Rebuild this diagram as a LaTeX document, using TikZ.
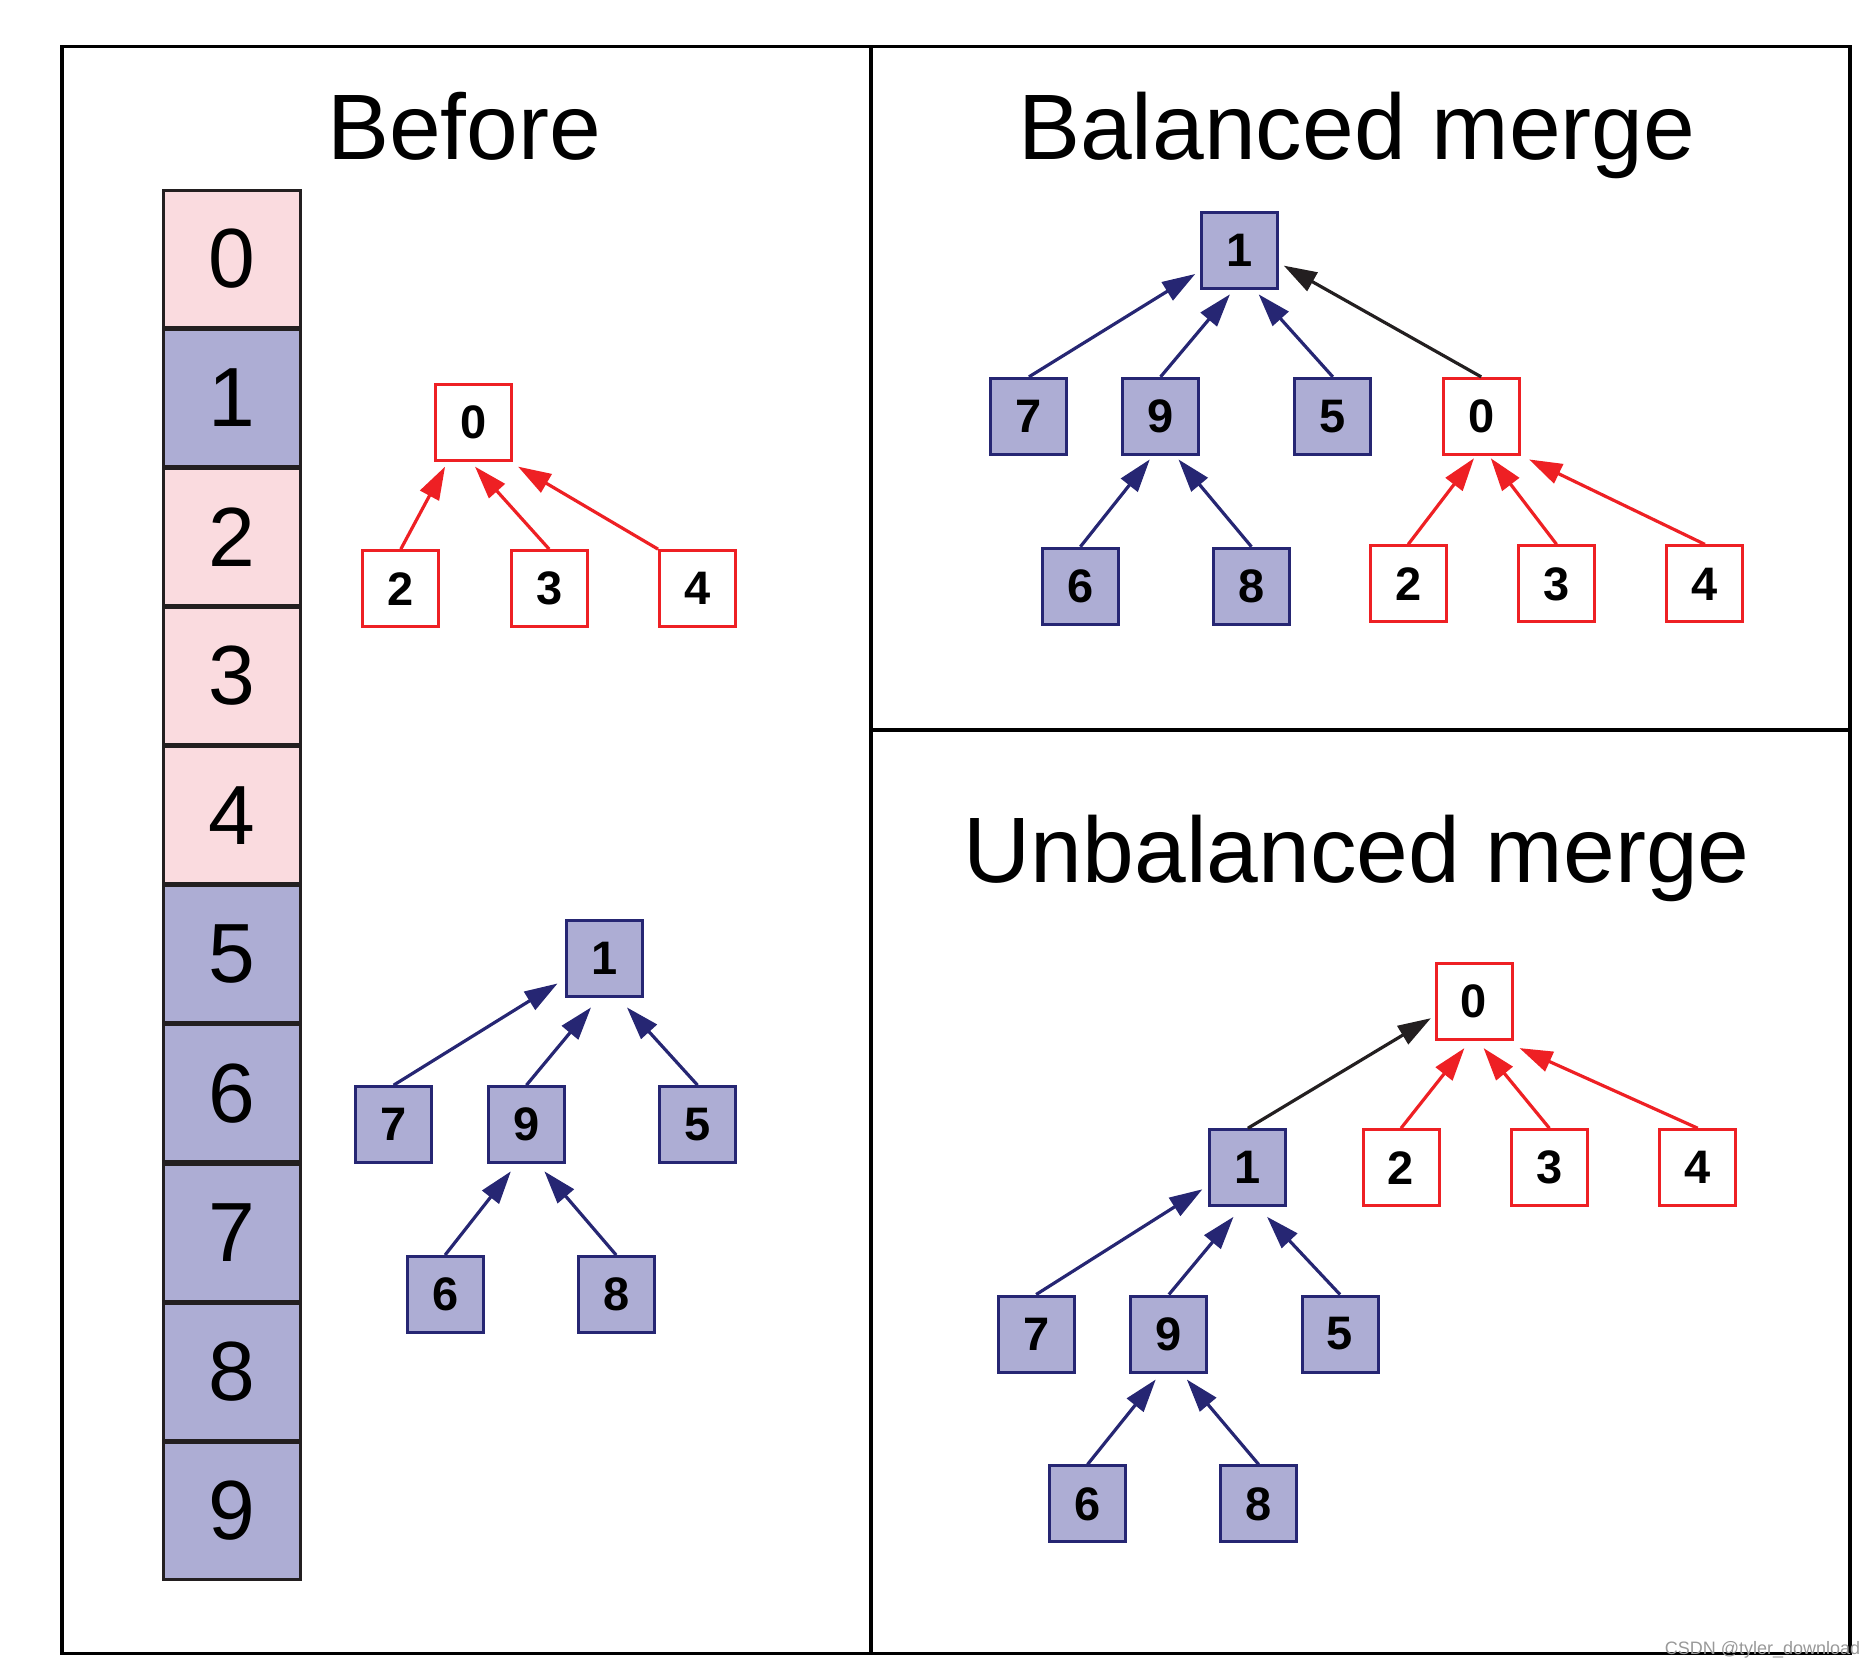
\documentclass[tikz,border=0pt]{standalone}
\usepackage{fontspec}
\setmainfont{Liberation Sans}
\usetikzlibrary{arrows.meta,calc}
\definecolor{pinkfill}{HTML}{FADBDF}
\definecolor{lav}{HTML}{ADADD4}
\definecolor{navy}{HTML}{262673}
\definecolor{redl}{HTML}{EE2024}
\definecolor{blk}{HTML}{231F20}
\begin{document}
\begin{tikzpicture}[x=1.1964pt,y=-1.1964pt,
  box/.style={line width=3pt,minimum size=76pt,inner sep=0pt,font=\fontsize{47}{47}\selectfont\bfseries},
  bn/.style={box,draw=navy,fill=lav},
  rn/.style={box,draw=redl,fill=white},
  cell/.style={draw=blk,line width=3pt,minimum width=137pt,minimum height=137pt,inner sep=0pt,font=\fontsize{84}{84}\selectfont},
  pcell/.style={cell,fill=pinkfill},
  lcell/.style={cell,fill=lav},
  ttl/.style={anchor=base,font=\fontsize{93}{93}\selectfont},
  tip/.style={-{Triangle[length=33pt,width=21pt]},line width=3.2pt},
  ba/.style={tip,draw=navy},
  ra/.style={tip,draw=redl},
  ka/.style={tip,draw=blk},
  frame/.style={draw=black,line width=3.6pt}]
\useasboundingbox (0,0) rectangle (1568,1394);
% panels
\draw[frame] (52,39) rectangle (1546,1382);
\draw[frame] (728,39) -- (728,1382);
\draw[frame] (728,610) -- (1546,610);
% titles
\node[ttl] (t1) at (388,133) {Before};
\node[ttl] (t2) at (1134,133) {Balanced merge};
\node[ttl] (t3) at (1134,738) {Unbalanced merge};
% array
\node[pcell] (a0) at (194,216.15) {0};
\node[lcell] (a1) at (194,332.45) {1};
\node[pcell] (a2) at (194,448.75) {2};
\node[pcell] (a3) at (194,565.05) {3};
\node[pcell] (a4) at (194,681.35) {4};
\node[lcell] (a5) at (194,797.65) {5};
\node[lcell] (a6) at (194,913.95) {6};
\node[lcell] (a7) at (194,1030.25) {7};
\node[lcell] (a8) at (194,1146.55) {8};
\node[lcell] (a9) at (194,1262.85) {9};
% before: red tree
\node[rn] (r0) at (396,353) {0};
\node[rn] (r2) at (335,492) {2};
\node[rn] (r3) at (459,492) {3};
\node[rn] (r4) at (583,492) {4};
\draw[ra] (r2.north) -- ($(r0)+(-24,37)$);
\draw[ra] (r3.north) -- ($(r0)+(1,37)$);
\draw[ra] (r4.north west) -- ($(r0)+(37,37)$);
% before: blue tree
\node[bn] (b1) at (505,801) {1};
\node[bn] (b7) at (329,940) {7};
\node[bn] (b9) at (440,940) {9};
\node[bn] (b5) at (583,940) {5};
\node[bn] (b6) at (372,1082) {6};
\node[bn] (b8) at (515,1082) {8};
\draw[ba] (b7.north) -- ($(b1)+(-39,21)$);
\draw[ba] (b9.north) -- ($(b1)+(-11,41)$);
\draw[ba] (b5.north) -- ($(b1)+(19,41)$);
\draw[ba] (b6.north) -- ($(b9)+(-13,39)$);
\draw[ba] (b8.north) -- ($(b9)+(15,39)$);
% balanced merge
\node[bn] (p1) at (1036,209) {1};
\node[bn] (p7) at (860,348) {7};
\node[bn] (p9) at (970,348) {9};
\node[bn] (p5) at (1114,348) {5};
\node[rn] (p0) at (1238,348) {0};
\node[bn] (p6) at (903,490) {6};
\node[bn] (p8) at (1046,490) {8};
\node[rn] (p2) at (1177,488) {2};
\node[rn] (p3) at (1301,488) {3};
\node[rn] (p4) at (1425,488) {4};
\draw[ba] (p7.north) -- ($(p1)+(-37,20)$);
\draw[ba] (p9.north) -- ($(p1)+(-8,37)$);
\draw[ba] (p5.north) -- ($(p1)+(16,37)$);
\draw[ka] (p0.north) -- ($(p1)+(37,13)$);
\draw[ba] (p6.north) -- ($(p9)+(-9,36)$);
\draw[ba] (p8.north) -- ($(p9)+(15,36)$);
\draw[ra] (p2.north) -- ($(p0)+(-6,35)$);
\draw[ra] (p3.north) -- ($(p0)+(8,35)$);
\draw[ra] (p4.north) -- ($(p0)+(40,36)$);
% unbalanced merge
\node[rn] (q0) at (1232,837) {0};
\node[bn] (q1) at (1043,976) {1};
\node[rn] (q2) at (1171,976) {2};
\node[rn] (q3) at (1295,976) {3};
\node[rn] (q4) at (1419,976) {4};
\node[bn] (q7) at (866,1115) {7};
\node[bn] (q9) at (977,1115) {9};
\node[bn] (q5) at (1120,1115) {5};
\node[bn] (q6) at (909,1257) {6};
\node[bn] (q8) at (1052,1257) {8};
\draw[ka] (q1.north) -- ($(q0)+(-36,14)$);
\draw[ra] (q2.north) -- ($(q0)+(-8,39)$);
\draw[ra] (q3.north) -- ($(q0)+(8,39)$);
\draw[ra] (q4.north) -- ($(q0)+(38,39)$);
\draw[ba] (q7.north) -- ($(q1)+(-38,18)$);
\draw[ba] (q9.north) -- ($(q1)+(-12,41)$);
\draw[ba] (q5.north) -- ($(q1)+(16,41)$);
\draw[ba] (q6.north) -- ($(q9)+(-11,38)$);
\draw[ba] (q8.north) -- ($(q9)+(15,38)$);
% watermark
\node[anchor=base east,text=black!40,font=\fontsize{18}{18}\selectfont,inner sep=0pt] (wm) at (1555,1382.5) {CSDN @tyler\_download};
\end{tikzpicture}
\end{document}
